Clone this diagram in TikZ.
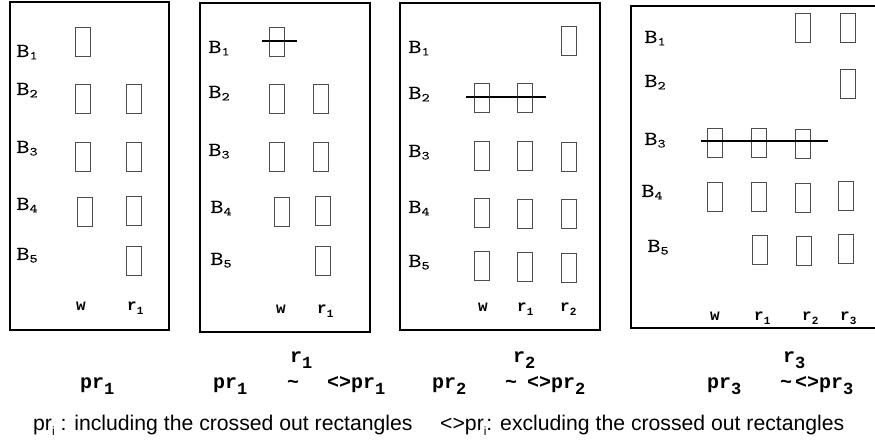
\documentclass[tikz,border=0pt]{standalone}
\usepackage{fontspec}
\usepackage{graphicx}
\setmainfont{Liberation Sans}
\newfontfamily\monofont{Liberation Mono}
\newfontfamily\rowfont[FakeBold=0.2]{Latin Modern Mono}
% row label B_i (typewriter, widened)
\newcommand\Blab[1]{\scalebox{1.3}[1]{\rowfont\fontsize{20}{20}\selectfont B\raisebox{-0.12em}{\fontsize{12}{12}\selectfont #1}}}
% bold typewriter label with a subscript
\newcommand\bsub[2]{{\monofont\bfseries\fontsize{16}{16}\selectfont #1\raisebox{-0.25em}{\fontsize{11}{11}\selectfont #2}}}
% larger bold typewriter label used beneath the panels
\newcommand\Bsub[2]{{\monofont\bfseries\fontsize{20}{20}\selectfont #1\raisebox{-0.3em}{\fontsize{17}{17}\selectfont #2}}}
\begin{document}
\begin{tikzpicture}[x=1pt,y=-1pt,
  panel/.style={draw=black,line width=1.6pt},
  cell/.style={draw=black!70,line width=0.9pt,minimum width=15pt,minimum height=29pt,inner sep=0pt,outer sep=0pt},
  strike/.style={draw=black,line width=2.2pt},
  lab/.style={inner sep=0pt,anchor=base west},
  caption/.style={inner sep=0pt,anchor=base west,font=\fontsize{21.2}{21.2}\selectfont}]
\useasboundingbox (0,0) rectangle (875,446);

% ---------- panel 1 ----------
\draw[panel] (10,2) rectangle (169,330);
\node[lab] (a1) at (16,57) {\Blab{1}};
\node[lab] (a2) at (16,95) {\Blab{2}};
\node[lab] (a3) at (16,153) {\Blab{3}};
\node[lab] (a4) at (16,210) {\Blab{4}};
\node[lab] (a5) at (16,260) {\Blab{5}};
\node[cell] (aw1) at (82.5,41.5) {};
\node[cell] (aw2) at (82.5,98.5) {};
\node[cell] (aw3) at (82.5,156.5) {};
\node[cell] (aw4) at (84.5,211.5) {};
\node[cell] (ar2) at (133.5,98.5) {};
\node[cell] (ar3) at (133.5,156.5) {};
\node[cell] (ar4) at (133.5,210.5) {};
\node[cell] (ar5) at (133.5,260.5) {};
\node[lab] (aw) at (76,310) {\bsub{w}{}};
\node[lab] (ar) at (127,310) {\bsub{r}{1}};

% ---------- panel 2 ----------
\draw[panel] (200,3) rectangle (370,332);
\node[lab] (b1) at (208,53) {\Blab{1}};
\node[lab] (b2) at (208,98) {\Blab{2}};
\node[lab] (b3) at (208,156) {\Blab{3}};
\node[lab] (b4) at (210,213) {\Blab{4}};
\node[lab] (b5) at (210,265) {\Blab{5}};
\node[cell] (bw1) at (276.5,41.5) {};
\node[cell] (bw2) at (276.5,98.5) {};
\node[cell] (bw3) at (276.5,156.5) {};
\node[cell] (bw4) at (281.5,211.5) {};
\node[cell] (br2) at (320.5,98.5) {};
\node[cell] (br3) at (320.5,156.5) {};
\node[cell] (br4) at (323,211) {};
\node[cell] (br5) at (323,261) {};
\draw[strike] (262,41) -- (297,41);
\node[lab] (bw) at (276,313) {\bsub{w}{}};
\node[lab] (br) at (317,313) {\bsub{r}{1}};

% ---------- panel 3 ----------
\draw[panel] (400,3) rectangle (600,330);
\node[lab] (c1) at (408,53) {\Blab{1}};
\node[lab] (c2) at (408,99) {\Blab{2}};
\node[lab] (c3) at (408,157) {\Blab{3}};
\node[lab] (c4) at (408,213) {\Blab{4}};
\node[lab] (c5) at (408,267) {\Blab{5}};
\node[cell] (cq1) at (568.5,40.5) {};
\node[cell] (cw2) at (481.5,98) {};
\node[cell] (cr2) at (524.5,98) {};
\node[cell] (cw3) at (481.5,155.5) {};
\node[cell] (cr3) at (524.5,155.5) {};
\node[cell] (cq3) at (568.5,156.5) {};
\node[cell] (cw4) at (481.5,212.5) {};
\node[cell] (cr4) at (524.5,213.5) {};
\node[cell] (cq4) at (568.5,214) {};
\node[cell] (cw5) at (482,265.5) {};
\node[cell] (cr5) at (525,266.5) {};
\node[cell] (cq5) at (569,267.5) {};
\draw[strike] (466,97) -- (546,97);
\node[lab] (cw) at (478,312) {\bsub{w}{}};
\node[lab] (cr) at (517,312) {\bsub{r}{1}};
\node[lab] (cq) at (560,312) {\bsub{r}{2}};

% ---------- panel 4 (runs off the right edge) ----------
\draw[panel] (876,6) -- (631,6) -- (631,328) -- (876,328);
\node[lab] (d1) at (644,43) {\Blab{1}};
\node[lab] (d2) at (644,87) {\Blab{2}};
\node[lab] (d3) at (644,145) {\Blab{3}};
\node[lab] (d4) at (641,197) {\Blab{4}};
\node[lab] (d5) at (647,252) {\Blab{5}};
\node[cell] (dq1) at (802.5,27.5) {};
\node[cell] (ds1) at (847.5,27.5) {};
\node[cell] (ds2) at (847.5,83.5) {};
\node[cell] (dw3) at (715,142.5) {};
\node[cell] (dr3) at (759,142.5) {};
\node[cell] (dq3) at (802.5,143.5) {};
\node[cell] (dw4) at (715,196.5) {};
\node[cell] (dr4) at (759,196.5) {};
\node[cell] (dq4) at (802.5,197.5) {};
\node[cell] (ds4) at (845.5,195.5) {};
\node[cell] (dr5) at (759.5,249.5) {};
\node[cell] (dq5) at (803.5,250.5) {};
\node[cell] (ds5) at (845.5,248.5) {};
\draw[strike] (701,141) -- (828,141);
\node[lab] (dw) at (710,320) {\bsub{w}{}};
\node[lab] (dr) at (754,320) {\bsub{r}{1}};
\node[lab] (dq) at (802,320) {\bsub{r}{2}};
\node[lab] (ds) at (840,320) {\bsub{r}{3}};

% ---------- labels under the panels ----------
\node[lab] (e0) at (80,388) {\Bsub{pr}{1}};
\node[lab] (e1) at (290,362) {\Bsub{r}{1}};
\node[lab] (e2) at (213,388) {\Bsub{pr}{1}};
\node[lab] (e3) at (287,388) {\Bsub{\char`\~}{}};
\node[lab] (e4) at (327,388) {\Bsub{<>pr}{1}};
\node[lab] (f1) at (513,362) {\Bsub{r}{2}};
\node[lab] (f2) at (432,388) {\Bsub{pr}{2}};
\node[lab] (f3) at (505,388) {\Bsub{\char`\~}{}};
\node[lab] (f4) at (527,388) {\Bsub{<>pr}{2}};
\node[lab] (g1) at (783,362) {\Bsub{r}{3}};
\node[lab] (g2) at (707,388) {\Bsub{pr}{3}};
\node[lab] (g3) at (780,388) {\Bsub{\char`\~}{}};
\node[lab] (g4) at (795,388) {\Bsub{<>pr}{3}};

% ---------- legend ----------
\node[caption] (h1) at (33,430) {pr\raisebox{-0.25em}{\fontsize{12}{12}\selectfont i} : including the crossed out rectangles};
\node[caption] (h2) at (440,430) {<>pr\raisebox{-0.25em}{\fontsize{12}{12}\selectfont i}: excluding the crossed out rectangles};
\end{tikzpicture}
\end{document}
